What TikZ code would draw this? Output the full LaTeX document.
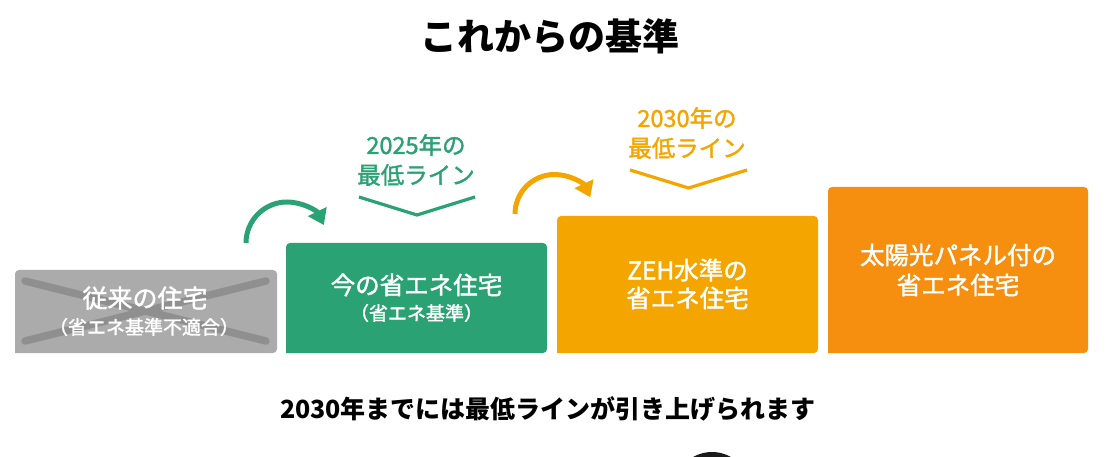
\documentclass[tikz,border=0pt]{standalone}
\usepackage{fontspec}
\setmainfont{Noto Sans CJK JP}
\newfontfamily\medfont{Noto Sans CJK JP}[FakeBold=1.6]
\usetikzlibrary{arrows.meta}
\definecolor{cgreen}{HTML}{2BA273}
\definecolor{cyellow}{HTML}{F5A500}
\definecolor{corange}{HTML}{F68E10}
\definecolor{cgray}{HTML}{ABABAB}
\definecolor{cxline}{HTML}{8F8F8F}
\definecolor{cdark}{HTML}{1A1A1A}
\begin{document}
\begin{tikzpicture}[x=1pt,y=-1pt,
  txt/.style={inner sep=0pt, outer sep=0pt, font=\bfseries\fontsize{#1}{#1}\selectfont},
  mtxt/.style={inner sep=0pt, outer sep=0pt, font=\medfont\fontsize{#1}{#1}\selectfont},
  wtxt/.style={mtxt=#1, text=white},
  xline/.style={draw=cxline, line width=7.5pt, line cap=round},
  chev/.style={line width=3.2pt},
  curvarrow/.style={line width=5pt, -{Triangle[length=15pt,width=20pt]}}]
\useasboundingbox (0,0) rectangle (1106,457);
% title
\node[txt=37] (title) at (550,36) {これからの基準};
% boxes
\fill[cgray, rounded corners=4pt] (15,353) -- (15,270) -- (277,270) -- (277,353) [sharp corners] -- cycle;
\fill[cgreen, rounded corners=4pt] (286,353) -- (286,243) -- (547,243) -- (547,353) [sharp corners] -- cycle;
\fill[cyellow, rounded corners=4pt] (557,353) -- (557,216) -- (818,216) -- (818,353) [sharp corners] -- cycle;
\fill[corange, rounded corners=4pt] (828,353) -- (828,187) -- (1088,187) -- (1088,353) [sharp corners] -- cycle;
% cross over old box
\coordinate (xa) at (25,281);
\coordinate (xb) at (266,341);
\coordinate (xc) at (25,341);
\coordinate (xd) at (266,281);
\draw[xline] (xa) -- (xb);
\draw[xline] (xc) -- (xd);
% box texts
\node[wtxt=25] (old1) at (145,298) {従来の住宅};
\node[wtxt=19] (old2) at (144,327) {（省エネ基準不適合）};
\node[wtxt=24.5] (now1) at (416.5,285) {今の省エネ住宅};
\node[wtxt=19] (now2) at (416.5,313) {（省エネ基準）};
\node[wtxt=24.5] (zeh1) at (687.5,270) {ZEH水準の};
\node[wtxt=24.5] (zeh2) at (687.5,298) {省エネ住宅};
\node[wtxt=24.5] (sol1) at (958,255) {太陽光パネル付の};
\node[wtxt=24.5] (sol2) at (958,285) {省エネ住宅};
% labels
\node[mtxt=23.5, text=cgreen] (l25a) at (416,145) {2025年の};
\node[mtxt=23.5, text=cgreen] (l25b) at (416,175) {最低ライン};
\node[mtxt=23.5, text=cyellow] (l30a) at (687,118) {2030年の};
\node[mtxt=23.5, text=cyellow] (l30b) at (687,148) {最低ライン};
% chevrons
\coordinate (g1) at (359,197);
\coordinate (g2) at (417,215);
\coordinate (g3) at (475,197);
\draw[cgreen, chev] (g1) -- (g2) -- (g3);
\coordinate (o1) at (630,170);
\coordinate (o2) at (688.5,188);
\coordinate (o3) at (747,170);
\draw[cyellow, chev] (o1) -- (o2) -- (o3);
% curved arrows
\draw[cgreen, curvarrow] (246,243) arc[start angle=180, end angle=334, radius=41];
\draw[cyellow, curvarrow] (515,214) arc[start angle=180, end angle=335, radius=39.5];
% bottom text
\node[txt=25] (bottom) at (548,409) {2030年までには最低ラインが引き上げられます};
% partial circle at bottom edge
\fill[cdark] (712,490) circle[radius=38];
\fill[cgreen!70!black] (712,490) circle[radius=33];
\end{tikzpicture}
\end{document}
